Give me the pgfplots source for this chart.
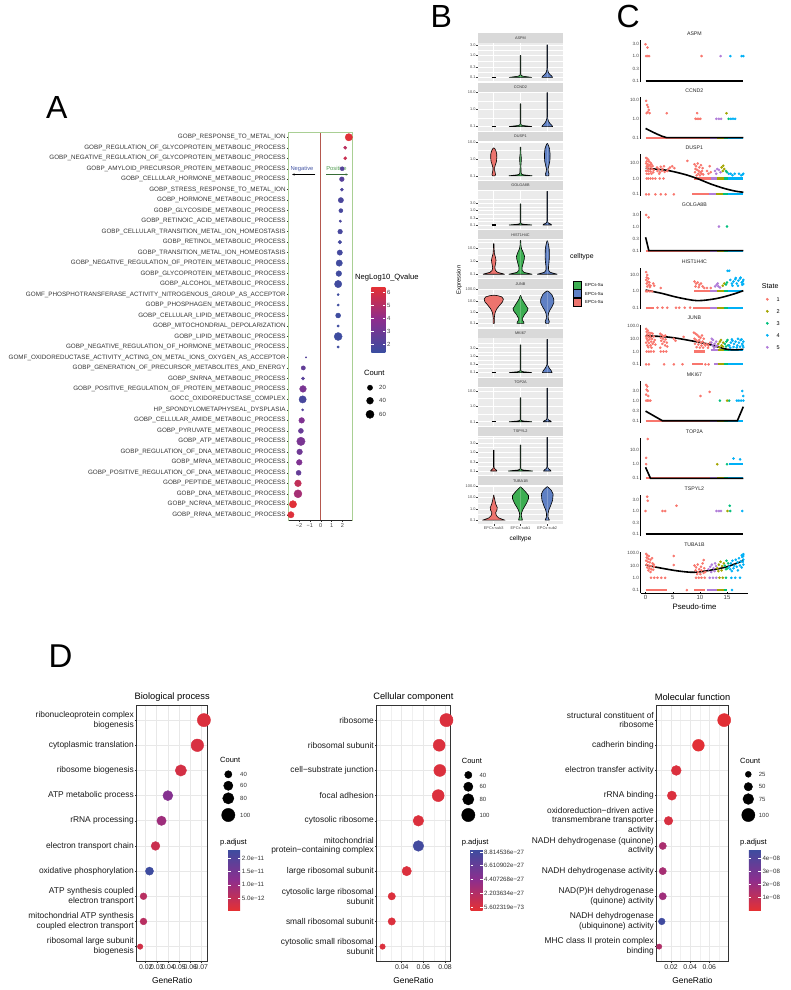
\documentclass[border=0pt]{standalone}
\usepackage{fontspec}
\setmainfont{Liberation Sans}
\usepackage{pgfplots}
\pgfplotsset{compat=1.18}
\usepackage{pgfplotstable}
\usetikzlibrary{arrows.meta}

\newcommand\fs[1]{\fontsize{#1}{#1}\selectfont}

\definecolor{s1}{HTML}{F8766D}
\definecolor{s2}{HTML}{A3A500}
\definecolor{s3}{HTML}{00BF7D}
\definecolor{s4}{HTML}{00B0F6}
\definecolor{s5}{HTML}{B07CD8}
\definecolor{vr}{HTML}{EC746E}
\definecolor{vg}{HTML}{3DAE52}
\definecolor{vb}{HTML}{5F80C4}
\definecolor{boxg}{HTML}{A9CF94}
\definecolor{zerol}{HTML}{B4584E}
\definecolor{negc}{HTML}{4657A5}
\definecolor{posc}{HTML}{4E9A4E}

\pgfplotsset{
  colormap={qv}{rgb255=(59,77,160) rgb255=(140,46,142) rgb255=(228,48,52)},
  colormap={pa}{rgb255=(228,48,52) rgb255=(140,46,142) rgb255=(59,77,160)},
  base/.style={scale only axis, anchor=north west, tick align=outside},
  dots/.style={scatter, only marks, mark=*, point meta=explicit,
    scatter/use mapped color={draw=mapped color, fill=mapped color}},
  cpt/.style={only marks, mark=*, mark size=1.1pt, mark options={draw=none}},
  % expression axes: values are plotted on a log10 scale
  lg/.style={every axis plot/.append style={y filter/.expression={log10(y)}}},
  bfac/.style={base, lg, width=85.6pt, height=38.2pt, xmin=0.4, xmax=3.6,
    axis background/.style={fill=black!8}, axis line style={draw=none},
    xtick={1,2,3}, xticklabels={}, xtick style={draw=none},
    xmajorgrids, ymajorgrids, yminorgrids,
    major grid style={white, line width=0.6pt}, minor grid style={white, line width=0.3pt},
    ytick pos=left, xtick pos=bottom, major tick length=1.4pt, minor tick length=0pt,
    ytick style={black!75, line width=0.35pt},
    yticklabel style={font=\fs{3.9}, text=black!70, inner sep=0.6pt}},
  cfac/.style={base, lg, width=107.5pt, height=41.5pt, xmin=-0.9, xmax=18.9,
    axis lines=left, axis line style={-, black, line width=0.55pt},
    xtick={0,5,10,15}, xticklabels={},
    major tick length=1.5pt, tick style={black, line width=0.45pt},
    yticklabel style={font=\fs{4.6}, text=black!75, inner sep=0.8pt},
    clip=false},
  cin/.style={axis x line=none, xtick=\empty},
  t3/.style={ytick={-1,-0.5229,0,0.4771}, yticklabels={0.1,0.3,1.0,3.0}},
  t10/.style={ytick={-1,0,1}, yticklabels={0.1,1.0,10.0}},
  t100/.style={ytick={-1,0,1,2}, yticklabels={0.1,1.0,10.0,100.0}},
  dfac/.style={base, height=256.7pt, ymin=0.4, ymax=10.6, y dir=reverse, ytick={1,...,10},
    scaled x ticks=false,
    xmajorgrids, ymajorgrids, major grid style={black!9, line width=0.7pt},
    minor grid style={black!6, line width=0.4pt}, minor tick length=0pt,
    axis line style={black!80, line width=0.6pt},
    tick style={black!80, line width=0.5pt}, major tick length=1.7pt,
    xtick pos=bottom, ytick pos=left,
    yticklabel style={font=\fontsize{8.4}{9.7}\selectfont, align=right, text=black!90, inner sep=1pt},
    xticklabel style={font=\fs{6.9}, text=black!85, inner sep=1.5pt},
    colormap name=pa, clip=false, colorbar,
    colorbar style={at={(parent axis.north east)}, anchor=north west, xshift=12pt, yshift=-144pt,
      scale only axis, width=12pt, height=61pt, yticklabel pos=right, tick align=inside,
      major tick length=2.4pt, ytick style={white, line width=0.5pt}, axis line style={draw=none},
      yticklabel style={font=\fs{6.2}, text=black!80, inner sep=1.5pt}}},
}

% violin profiles: half-width w at expression y
\pgfplotstableread{
w y
0 0.1
0.42 0.1
0.28 0.106
0.1 0.113
0.03 0.122
0.008 0.14
0.008 1.0
0 1.0
}\vAg
\pgfplotstableread{
w y
0 0.1
0.2 0.1
0.17 0.115
0.09 0.14
0.04 0.17
0.015 0.22
0.008 0.3
0.008 3.0
0 3.0
}\vAb
\pgfplotstableread{
w y
0 0.1
0.42 0.1
0.28 0.107
0.1 0.115
0.03 0.125
0.008 0.15
0.008 2.2
0 2.2
}\vBg
\pgfplotstableread{
w y
0 0.1
0.2 0.1
0.17 0.12
0.09 0.16
0.04 0.22
0.015 0.3
0.008 0.4
0.008 10
0 10
}\vBb
\pgfplotstableread{
w y
0 0.1
0.05 0.1
0.065 0.12
0.05 0.16
0.03 0.22
0.03 0.3
0.06 0.45
0.1 0.7
0.115 1.2
0.11 2
0.08 3
0.04 4
0 4.5
}\vCr
\pgfplotstableread{
w y
0 0.1
0.43 0.1
0.3 0.106
0.12 0.114
0.04 0.125
0.02 0.16
0.015 0.4
0.03 0.8
0.03 1.2
0.015 2
0.008 5
0 5
}\vCg
\pgfplotstableread{
w y
0 0.1
0.055 0.1
0.065 0.13
0.04 0.18
0.028 0.25
0.06 0.4
0.1 0.8
0.105 2
0.085 4
0.05 6
0 8.5
}\vCb
\pgfplotstableread{
w y
0 0.1
0.42 0.1
0.28 0.106
0.1 0.113
0.03 0.122
0.008 0.14
0.008 2.8
0 2.8
}\vDg
\pgfplotstableread{
w y
0 0.1
0.16 0.1
0.13 0.115
0.06 0.13
0.02 0.15
0.008 0.2
0.008 20
0 20
}\vDb
\pgfplotstableread{
w y
0 0.1
0.4 0.1
0.3 0.115
0.14 0.14
0.06 0.2
0.04 0.35
0.07 0.7
0.085 1.2
0.06 2.2
0.025 4
0.012 10
0.008 22
0 24
}\vEr
\pgfplotstableread{
w y
0 0.1
0.43 0.1
0.3 0.115
0.13 0.14
0.06 0.2
0.06 0.35
0.1 0.7
0.14 1.5
0.15 2.5
0.1 5
0.04 9
0.015 18
0.008 40
0 42
}\vEg
\pgfplotstableread{
w y
0 0.1
0.37 0.1
0.26 0.115
0.11 0.14
0.05 0.2
0.045 0.35
0.065 0.8
0.08 2
0.075 8
0.05 18
0.02 32
0 40
}\vEb
\pgfplotstableread{
w y
0 0.1
0.025 0.1
0.02 0.3
0.04 0.7
0.07 1.2
0.12 2
0.22 4
0.33 8
0.36 14
0.3 22
0.15 28
0 31
}\vFr
\pgfplotstableread{
w y
0 0.1
0.13 0.1
0.12 0.13
0.08 0.18
0.08 0.3
0.15 0.6
0.25 1.2
0.28 2
0.2 4
0.12 8
0.05 15
0.01 28
0 30
}\vFg
\pgfplotstableread{
w y
0 0.1
0.06 0.1
0.075 0.15
0.04 0.25
0.03 0.4
0.05 0.8
0.1 1.5
0.18 3
0.25 7
0.24 15
0.17 35
0.07 60
0 74
}\vFb
\pgfplotstableread{
w y
0 0.1
0.42 0.1
0.28 0.106
0.1 0.113
0.03 0.122
0.008 0.14
0.008 4.4
0 4.4
}\vGg
\pgfplotstableread{
w y
0 0.1
0.18 0.1
0.15 0.13
0.08 0.18
0.03 0.25
0.008 0.32
0.008 9.6
0 9.6
}\vGb
\pgfplotstableread{
w y
0 0.1
0.42 0.1
0.28 0.106
0.1 0.113
0.03 0.122
0.008 0.14
0.008 3.6
0 3.6
}\vHg
\pgfplotstableread{
w y
0 0.1
0.15 0.1
0.12 0.115
0.05 0.13
0.02 0.15
0.008 0.2
0.008 15
0 15
}\vHb
\pgfplotstableread{
w y
0 0.1
0.12 0.1
0.09 0.115
0.04 0.13
0.015 0.15
0.008 0.18
0.008 1.25
0 1.25
}\vIr
\pgfplotstableread{
w y
0 0.1
0.45 0.1
0.3 0.106
0.1 0.113
0.03 0.122
0.008 0.14
0.008 2.3
0 2.3
}\vIg
\pgfplotstableread{
w y
0 0.1
0.14 0.1
0.11 0.115
0.05 0.13
0.02 0.15
0.008 0.18
0.008 5.8
0 5.8
}\vIb
\pgfplotstableread{
w y
0 0.1
0.42 0.1
0.32 0.12
0.18 0.16
0.1 0.25
0.07 0.45
0.12 0.8
0.13 1.3
0.08 2.5
0.04 6
0 17
}\vJr
\pgfplotstableread{
w y
0 0.1
0.07 0.1
0.06 0.14
0.03 0.25
0.04 0.45
0.1 1
0.22 3
0.3 8
0.3 15
0.2 30
0.08 60
0 90
}\vJg
\pgfplotstableread{
w y
0 0.1
0.08 0.1
0.06 0.13
0.025 0.2
0.03 0.4
0.06 0.8
0.13 2
0.2 6
0.22 20
0.15 45
0.05 75
0 93
}\vJb

% violin: centre, fill, profile table (drawn as two mirrored halves)
\newcommand\vio[3]{%
  \addplot[fill=#2, draw=black, line width=0.6pt, line join=round] table[x expr=#1+\thisrow{w}, y=y]{#3};
  \addplot[fill=#2, draw=black, line width=0.6pt, line join=round] table[x expr=#1-\thisrow{w}, y=y]{#3};
}
\newcommand\vdsh{\addplot[black, line width=1.3pt] coordinates {(0.92,0.1)(1.08,0.1)};}
% dense row of cells: colour, from, to, level
\newcommand\bd[4]{\addplot[#1, line width=2.2pt] coordinates {(#2,#4)(#3,#4)};}
\newcommand\flr{\bd{s1}{0}{11.8}{0.1}\bd{s5}{11.8}{13.2}{0.1}\bd{s2}{13.2}{14.4}{0.1}\bd{s3}{14.4}{15.2}{0.1}\bd{s4}{15.2}{18}{0.1}}
\newcommand\trend[1]{\addplot[black, line width=1.6pt] coordinates {#1};}
\newcommand\strend[1]{\addplot[black, line width=1.6pt, smooth] coordinates {#1};}
% strip of panel B: top edge, gene
\newcommand\strip[2]{\fill[black!15] (axis cs:477.7,#1) rectangle (axis cs:563.3,#1+9.2);
  \node[font=\fs{3.8}, text=black!80] at (axis cs:520.5,#1+4.6) {#2};}

\begin{document}
\begin{tikzpicture}
\path[use as bounding box] (0pt,0pt) rectangle (791pt,-990pt);

% ================= A =================
\begin{axis}[base, at={(288.6pt,-132pt)}, width=63.6pt, height=388pt,
  xmin=-2.95, xmax=2.89, ymin=0.5, ymax=37.5, y dir=reverse,
  axis line style={draw=none}, xtick pos=bottom, ytick pos=left,
  xtick={-2,-1,0,1,2}, xticklabels={−2,−1,0,1,2},
  ytick={1,...,37},
  yticklabels={GOBP\_RESPONSE\_TO\_METAL\_ION,
    GOBP\_REGULATION\_OF\_GLYCOPROTEIN\_METABOLIC\_PROCESS,
    GOBP\_NEGATIVE\_REGULATION\_OF\_GLYCOPROTEIN\_METABOLIC\_PROCESS,
    GOBP\_AMYLOID\_PRECURSOR\_PROTEIN\_METABOLIC\_PROCESS,
    GOBP\_CELLULAR\_HORMONE\_METABOLIC\_PROCESS,
    GOBP\_STRESS\_RESPONSE\_TO\_METAL\_ION,
    GOBP\_HORMONE\_METABOLIC\_PROCESS,
    GOBP\_GLYCOSIDE\_METABOLIC\_PROCESS,
    GOBP\_RETINOIC\_ACID\_METABOLIC\_PROCESS,
    GOBP\_CELLULAR\_TRANSITION\_METAL\_ION\_HOMEOSTASIS,
    GOBP\_RETINOL\_METABOLIC\_PROCESS,
    GOBP\_TRANSITION\_METAL\_ION\_HOMEOSTASIS,
    GOBP\_NEGATIVE\_REGULATION\_OF\_PROTEIN\_METABOLIC\_PROCESS,
    GOBP\_GLYCOPROTEIN\_METABOLIC\_PROCESS,
    GOBP\_ALCOHOL\_METABOLIC\_PROCESS,
    GOMF\_PHOSPHOTRANSFERASE\_ACTIVITY\_NITROGENOUS\_GROUP\_AS\_ACCEPTOR,
    GOBP\_PHOSPHAGEN\_METABOLIC\_PROCESS,
    GOBP\_CELLULAR\_LIPID\_METABOLIC\_PROCESS,
    GOBP\_MITOCHONDRIAL\_DEPOLARIZATION,
    GOBP\_LIPID\_METABOLIC\_PROCESS,
    GOBP\_NEGATIVE\_REGULATION\_OF\_HORMONE\_METABOLIC\_PROCESS,
    GOMF\_OXIDOREDUCTASE\_ACTIVITY\_ACTING\_ON\_METAL\_IONS\_OXYGEN\_AS\_ACCEPTOR,
    GOBP\_GENERATION\_OF\_PRECURSOR\_METABOLITES\_AND\_ENERGY,
    GOBP\_SNRNA\_METABOLIC\_PROCESS,
    GOBP\_POSITIVE\_REGULATION\_OF\_PROTEIN\_METABOLIC\_PROCESS,
    GOCC\_OXIDOREDUCTASE\_COMPLEX,
    HP\_SPONDYLOMETAPHYSEAL\_DYSPLASIA,
    GOBP\_CELLULAR\_AMIDE\_METABOLIC\_PROCESS,
    GOBP\_PYRUVATE\_METABOLIC\_PROCESS,
    GOBP\_ATP\_METABOLIC\_PROCESS,
    GOBP\_REGULATION\_OF\_DNA\_METABOLIC\_PROCESS,
    GOBP\_MRNA\_METABOLIC\_PROCESS,
    GOBP\_POSITIVE\_REGULATION\_OF\_DNA\_METABOLIC\_PROCESS,
    GOBP\_PEPTIDE\_METABOLIC\_PROCESS,
    GOBP\_DNA\_METABOLIC\_PROCESS,
    GOBP\_NCRNA\_METABOLIC\_PROCESS,
    GOBP\_RRNA\_METABOLIC\_PROCESS},
  major tick length=1.8pt, tick style={black!80, line width=0.4pt},
  yticklabel style={font=\fs{6.3}, text=black!80, inner sep=1pt},
  xticklabel style={font=\fs{5.6}, text=black!75, inner sep=1.2pt},
  colormap name=qv, point meta min=1.4, point meta max=6.4, clip=false,
  colorbar, colorbar style={at={(parent axis.north east)}, anchor=north west,
    xshift=10.6pt, yshift=-155pt, scale only axis, width=14pt, height=65pt,
    ytick={2,3,4,5,6}, yticklabels={2,3,4,5,6}, yticklabel pos=right,
    tick align=inside, major tick length=2.8pt, ytick style={white, line width=0.5pt},
    axis line style={draw=none}, yticklabel style={font=\fs{6}, text=black!75, inner sep=1.5pt}}]
\draw[zerol, line width=0.6pt] (axis cs:0,0.5) -- (axis cs:0,37.5);
\draw[boxg, line width=0.9pt] (axis cs:-2.95,0.5) rectangle (axis cs:2.89,37.5);
\draw[black!85, line width=0.5pt] (axis cs:-2.95,37.5) -- (axis cs:2.89,37.5);
\node[negc, font=\fs{5.8}] at (axis cs:-1.72,4) {Negative};
\node[posc, font=\fs{5.8}] at (axis cs:1.45,4) {Positive};
\draw[-{Stealth[length=2.4pt,width=2.2pt]}, line width=0.6pt] (axis cs:-0.5,4.55) -- (axis cs:-2.62,4.55);
\draw[posc!70!black, -{Stealth[length=2.4pt,width=2.2pt]}, line width=0.6pt] (axis cs:0.5,4.55) -- (axis cs:2.5,4.55);
\addplot[dots, visualization depends on={0.72*(1+5*sqrt(max(\thisrow{n}-1,0)/69)) \as \msz},
  scatter/@pre marker code/.append style={/tikz/mark size=\msz}] table[x=x, y=y, meta=q]{
y x q n
1 2.58 6.3 47
2 2.25 5.2 6
3 2.25 5.6 4.5
4 1.97 2.2 10
5 1.94 2.3 15
6 1.94 2.0 5
7 1.85 1.9 21
8 1.85 1.8 10
9 1.80 1.9 2.5
10 1.78 1.8 15
11 1.75 1.7 8
12 1.75 1.7 21
13 1.70 1.6 33
14 1.66 1.6 25
15 1.60 1.6 47
16 1.60 1.5 1.8
17 1.60 1.5 2
18 1.60 1.5 18
19 1.60 1.5 2
20 1.60 1.5 58
21 1.60 1.5 2
22 -1.35 2.2 1
23 -1.60 2.6 12
24 -1.63 2.3 5
25 -1.63 3.3 38
26 -1.66 1.8 47
27 -1.66 2.1 2
28 -1.75 3.5 25
29 -1.82 2.8 18
30 -1.82 3.3 65
31 -1.94 3.0 25
32 -1.97 3.5 25
33 -2.03 2.7 18
34 -2.09 5.4 38
35 -2.09 4.6 58
36 -2.55 6.3 47
37 -2.74 6.2 33
};
\end{axis}

% ================= B (y on log10 scale) =================
\begin{axis}[bfac, t3, at={(477.7pt,-43.2pt)}, ymin=-1.180, ymax=0.554,
  minor ytick={-1.261,-0.762,-0.261,0.238}]
\vdsh \vio{2}{vg}{\vAg} \vio{3}{vb}{\vAb}
\end{axis}
\begin{axis}[bfac, t10, at={(477.7pt,-92.4pt)}, ymin=-1.237, ymax=1.013, minor ytick={-0.5,0.5}]
\vdsh \vio{2}{vg}{\vBg} \vio{3}{vb}{\vBb}
\end{axis}
\begin{axis}[bfac, t10, at={(477.7pt,-141.6pt)}, ymin=-1.237, ymax=1.025, minor ytick={-0.5,0.5}]
\vio{1}{vr}{\vCr} \vio{2}{vg}{\vCg} \vio{3}{vb}{\vCb}
\end{axis}
\begin{axis}[bfac, t3, at={(477.7pt,-190.8pt)}, ymin=-1.276, ymax=1.342,
  minor ytick={-0.762,-0.261,0.238,0.738}]
\vdsh \vio{2}{vg}{\vDg} \vio{3}{vb}{\vDb}
\end{axis}
\begin{axis}[bfac, t10, at={(477.7pt,-240pt)}, ymin=-1.310, ymax=1.653, minor ytick={-0.5,0.5,1.5}]
\vio{1}{vr}{\vEr} \vio{2}{vg}{\vEg} \vio{3}{vb}{\vEb}
\end{axis}
\begin{axis}[bfac, t100, at={(477.7pt,-289.2pt)}, ymin=-1.357, ymax=2.021, minor ytick={-0.5,0.5,1.5}]
\vio{1}{vr}{\vFr} \vio{2}{vg}{\vFg} \vio{3}{vb}{\vFb}
\end{axis}
\begin{axis}[bfac, t3, at={(477.7pt,-338.4pt)}, ymin=-1.237, ymax=1.033,
  minor ytick={-1.261,-0.762,-0.261,0.238,0.738}]
\vdsh \vio{2}{vg}{\vGg} \vio{3}{vb}{\vGb}
\end{axis}
\begin{axis}[bfac, t10, at={(477.7pt,-387.6pt)}, ymin=-1.260, ymax=1.215, minor ytick={-0.5,0.5}]
\vdsh \vio{2}{vg}{\vHg} \vio{3}{vb}{\vHb}
\end{axis}
\begin{axis}[bfac, t3, at={(477.7pt,-436.8pt)}, ymin=-1.208, ymax=0.792,
  minor ytick={-1.261,-0.762,-0.261,0.238,0.738}]
\vio{1}{vr}{\vIr} \vio{2}{vg}{\vIg} \vio{3}{vb}{\vIb}
\end{axis}
\begin{axis}[bfac, t100, at={(477.7pt,-486pt)}, ymin=-1.357, ymax=2.025, minor ytick={-0.5,0.5,1.5},
  xticklabels={EPCs-sub3,EPCs-sub1,EPCs-sub2}, xtick style={draw=black!75, line width=0.35pt},
  xticklabel style={font=\fs{3.9}, text=black!70, inner sep=1pt}]
\vio{1}{vr}{\vJr} \vio{2}{vg}{\vJg} \vio{3}{vb}{\vJb}
\end{axis}

% ================= C (y on log10 scale) =================
\begin{axis}[cfac, cin, t3, at={(640.7pt,-40.5pt)}, ymin=-1.041, ymax=0.628]
\flr
\addplot[cpt, s1] coordinates {(0,3)(0.35,2.2)(0.1,1)(0.4,1)(0.65,1)(10.3,1)};
\addplot[cpt, s5] coordinates {(13.8,1)};
\addplot[cpt, s4] coordinates {(15.6,1)(17.7,1)(18,1)};
\trend{(0,0.1)(18,0.1)}
\end{axis}
\begin{axis}[cfac, cin, t10, at={(640.7pt,-97.3pt)}, ymin=-1.060, ymax=1.143]
\flr
\addplot[cpt, s1] coordinates {(0.1,9)(0.3,5.5)(0.45,4.2)(0.6,3)(0.4,2.3)(0.75,2)(0.2,2)(3.9,2)(9.5,2)(9.2,1)(9.5,1)(9.8,1)(10.1,1)};
\addplot[cpt, s5] coordinates {(13.05,1)(13.5,1)(13.9,1)};
\addplot[cpt, s2] coordinates {(14.9,2)};
\addplot[cpt, s3] coordinates {(15.3,1)};
\addplot[cpt, s4] coordinates {(15.7,1)(16.1,1)(16.5,1)};
\trend{(0,0.31)(1,0.22)(2,0.16)(3,0.12)(3.9,0.1)(18,0.1)}
\end{axis}
\begin{axis}[cfac, cin, t10, at={(640.7pt,-154.1pt)}, ymin=-1.081, ymax=1.544]
\bd{s1}{8.6}{11.6}{0.1}\bd{s5}{11.6}{13}{0.1}\bd{s2}{13}{14.3}{0.1}\bd{s3}{14.3}{15.2}{0.1}\bd{s4}{15.2}{18}{0.1}
\bd{s1}{9}{12}{1}\bd{s5}{12}{13.2}{1}\bd{s2}{13.2}{14.4}{1}\bd{s3}{14.4}{15.2}{1}\bd{s4}{15.2}{18}{1}
\addplot[cpt, s1] coordinates {(0.1,20)(0.3,18)(0.5,15)(0.2,12)(0.6,12)(0.9,10)(0.1,9)(0.4,8)(0.8,7)(1.1,8)(0.2,6)(0.5,6)(1.0,5.5)(1.3,6)(0.3,4.5)(0.7,4)(1.2,4)(1.5,3.5)(0.1,3)(0.5,3)(0.9,2.8)(1.4,2.5)(0.2,2)(0.6,2)(1.1,2)(2.1,5)(2.4,4)(2.8,5.5)(3.1,4)(3.4,6)(2.2,3)(2.6,2.5)(3.0,3)(3.5,2.6)(2.5,2)(4.2,4)(4.5,5)(4.9,6)(5.3,4.5)(4.0,3)(7.7,13)(9.0,8)(9.3,6)(9.6,9)(9.9,5)(10.2,7)(10.5,4.5)(9.2,4)(9.5,3.5)(9.8,3)(10.1,2.5)(10.4,3)(9.1,2.5)(9.7,2)(10.3,2)(10.6,1.8)(9.4,1.6)(10.0,1.6)(11.8,6)(11.3,3)(11.6,2)(12.0,2.5)(0.2,1)(0.5,1)(0.9,1)(1.3,1)(1.8,1)(2.6,1)(3.3,1)(0.1,0.1)(0.6,0.1)(1.8,0.1)(2.8,0.1)(3.7,0.1)(5.2,0.1)};
\addplot[cpt, s5] coordinates {(12.8,3)(13.2,4)(13.5,3.5)(13.0,2)(13.8,2.5)};
\addplot[cpt, s2] coordinates {(14.0,5)(14.3,6.5)(14.5,4)(14.2,3)};
\addplot[cpt, s3] coordinates {(14.8,3)(15.0,2.5)};
\addplot[cpt, s4] coordinates {(15.3,2)(15.7,2)(16.0,1.6)(16.4,2)(17.2,2)(17.6,1.6)(18.0,2)(17.9,1.8)};
\strend{(0,4.4)(3.4,3.5)(5.2,2.7)(7.5,1.7)(9.5,1.0)(12,0.45)(14.4,0.24)(16.5,0.16)(18,0.135)}
\end{axis}
\begin{axis}[cfac, cin, t3, at={(640.7pt,-210.9pt)}, ymin=-1.071, ymax=0.646]
\flr
\addplot[cpt, s1] coordinates {(0.1,3.0)(0.55,2.4)};
\addplot[cpt, s5] coordinates {(13.5,1)};
\addplot[cpt, s3] coordinates {(15.0,1)};
\trend{(0,0.36)(0.6,0.1)(18,0.1)}
\end{axis}
\begin{axis}[cfac, cin, t10, at={(640.7pt,-267.7pt)}, ymin=-1.092, ymax=1.446]
\bd{s1}{0}{1.6}{0.1}\bd{s1}{8.8}{11.8}{0.1}\bd{s5}{11.8}{13.2}{0.1}\bd{s2}{13.2}{14.4}{0.1}\bd{s3}{14.4}{15.2}{0.1}\bd{s4}{15.2}{18}{0.1}
\bd{s1}{9}{11.8}{1}\bd{s5}{11.8}{13.2}{1}\bd{s2}{13.2}{14.4}{1}\bd{s3}{14.4}{15.2}{1}\bd{s4}{15.2}{18}{1}
\addplot[cpt, s1] coordinates {(0.1,15)(0.3,10)(0.2,7)(0.5,6)(0.1,5)(0.4,4)(0.7,3.5)(0.2,3)(0.6,2.5)(0.9,2.2)(0.3,2)(0.8,1.8)(1.4,3)(1.6,2.2)(2.8,1.6)(9.0,4)(9.3,3)(9.6,3.5)(9.9,2.5)(10.2,3)(9.2,2)(9.8,1.8)(10.5,2)(10.8,1.6)(11.3,1.6)(12.0,1.6)(0.1,1)(0.4,1)(0.8,1)(1.2,1)(2.2,0.1)(3.1,0.1)(4.0,0.1)(5.6,0.1)(6.2,0.1)(7.2,0.1)(8.2,0.1)};
\addplot[cpt, s5] coordinates {(12.8,2)(13.1,2.5)(13.4,2)(13.7,1.7)(13.3,3)};
\addplot[cpt, s2] coordinates {(14.2,2.2)(14.5,3)};
\addplot[cpt, s3] coordinates {(14.8,2.6)(15.0,3.5)};
\addplot[cpt, s4] coordinates {(15.1,18)(15.4,18)(15.6,5)(15.9,3)(16.2,4)(16.5,5.5)(16.8,3)(17.1,4.5)(17.4,6)(17.7,3.5)(18.0,5)(17.9,4)(16.0,2.2)(17.0,2.2)(17.8,2.5)(18.0,2.8)(16.6,6.5)(17.5,7)};
\strend{(0,1.2)(3,0.75)(6,0.42)(9.5,0.27)(13,0.36)(16,0.65)(18,1.1)}
\end{axis}
\begin{axis}[cfac, cin, t100, at={(640.7pt,-324.5pt)}, ymin=-1.131, ymax=2.117]
\bd{s1}{8.6}{10.6}{0.1}\bd{s5}{12.6}{13.3}{0.1}\bd{s2}{13.3}{14.4}{0.1}\bd{s3}{14.4}{15.2}{0.1}\bd{s4}{15.2}{18}{0.1}
\bd{s1}{9}{11}{1}\bd{s5}{12}{13.3}{1.4}\bd{s2}{13.3}{14.5}{1.4}\bd{s3}{14.5}{15.3}{1.4}\bd{s4}{15.3}{18}{1.4}
\addplot[cpt, s1] coordinates {(0.1,60)(0.4,45)(0.2,35)(0.6,30)(1.0,28)(0.3,22)(0.8,20)(1.3,25)(0.1,15)(0.5,14)(0.9,13)(1.5,15)(0.2,10)(0.7,9)(1.2,10)(1.7,8)(0.4,7)(1.0,6)(1.5,5.5)(0.1,5)(0.6,4.5)(1.3,4)(0.3,3)(0.9,3)(1.8,3.5)(0.5,2.2)(1.1,2)(2.7,25)(3.0,20)(3.3,15)(3.6,18)(2.8,12)(3.2,10)(3.7,9)(2.9,7)(3.4,6)(3.9,5)(3.1,4)(3.6,3)(4.0,2.5)(2.7,2)(5.2,10)(5.5,7)(7.0,14)(8.9,30)(9.2,25)(9.5,20)(9.8,15)(10.1,12)(10.4,18)(10.7,10)(9.0,10)(9.3,8)(9.6,6)(9.9,8)(10.2,5)(10.5,6)(10.8,4)(9.1,4)(9.7,3.5)(10.3,3)(11.0,3)(9.4,2.2)(10.0,2)(10.6,2)(11.3,4)(11.6,3)(11.9,5)(11.5,2)(0.2,1)(0.6,1)(1.0,1)(1.5,1)(2.8,1)(3.3,1)(3.8,1)(0.1,0.1)(0.6,0.1)(3.4,0.1)(5.2,0.1)(6.8,0.1)(11.0,0.1)(11.6,0.1)};
\addplot[cpt, s5] coordinates {(12.1,5)(12.4,8)(12.7,4)(13.0,6)(12.3,3)(12.9,2.5)(12.6,2)(13.2,3)(12.2,10)};
\addplot[cpt, s2] coordinates {(13.4,4)(13.7,6)(14.0,3)(14.3,5)(13.6,2.2)(14.2,2.5)(13.9,8)};
\addplot[cpt, s3] coordinates {(14.6,4)(14.9,6)(15.2,3)(14.8,2.5)(15.1,8)};
\addplot[cpt, s4] coordinates {(15.4,3)(15.7,5)(16.0,7)(16.3,4)(16.6,6)(16.9,3)(17.2,5)(17.5,8)(17.8,4)(18.0,6)(17.9,3)(15.6,2)(16.2,2.3)(16.8,2.1)(17.4,2.4)(18.0,2.2)(15.9,9)(17.0,10)(17.7,9)};
\strend{(0,17)(3,15)(5.2,12)(8,7.5)(11.3,4)(13.5,2.2)(15,1.5)(16.5,1.35)(18,1.5)}
\end{axis}
\begin{axis}[cfac, cin, t3, at={(640.7pt,-381.3pt)}, ymin=-1.102, ymax=0.959]
\flr
\addplot[cpt, s1] coordinates {(0.1,6)(0.3,5)(0.2,3.5)(0.4,3)(0.1,2)(0.5,1.7)(0.1,1)(0.35,1)(0.6,1)(0.9,1)(10.1,1.7)(11.8,2.7)};
\addplot[cpt, s3] coordinates {(13.7,1)(15.4,1)};
\addplot[cpt, s2] coordinates {(15.0,1)};
\addplot[cpt, s4] coordinates {(16.8,1)(17.2,1)(17.6,1)(18.0,1)(17.8,3)(18.0,1.7)};
\trend{(0,0.3)(3.1,0.1)(16.9,0.1)(18,0.5)}
\end{axis}
\begin{axis}[cfac, cin, t10, at={(640.7pt,-438.1pt)}, ymin=-1.092, ymax=1.845]
\flr
\bd{s4}{15.3}{18}{1}
\addplot[cpt, s1] coordinates {(0.4,60)(0.1,2.8)(0.1,1)};
\addplot[cpt, s2] coordinates {(13.2,1)};
\addplot[cpt, s3] coordinates {(15.0,1)};
\addplot[cpt, s4] coordinates {(16.2,2.5)(17.4,2.2)};
\trend{(0,0.6)(0.9,0.1)(18,0.1)}
\end{axis}
\begin{axis}[cfac, cin, t3, at={(640.7pt,-494.9pt)}, ymin=-1.102, ymax=0.699]
\flr
\addplot[cpt, s1] coordinates {(0.3,4.2)(0.4,2.8)(0,1)(3.1,1)(3.6,1)(5.7,1.7)};
\addplot[cpt, s5] coordinates {(13.05,1)(13.5,1)(13.9,1)};
\addplot[cpt, s2] coordinates {(15.1,1)};
\addplot[cpt, s3] coordinates {(15.5,1.7)(15.6,1)};
\addplot[cpt, s4] coordinates {(17.8,1)};
\trend{(0,0.1)(18,0.1)}
\end{axis}
\begin{axis}[cfac, t100, at={(640.7pt,-551.7pt)}, ymin=-1.260, ymax=2.130,
  xticklabels={0,5,10,15}, xticklabel style={font=\fs{6}, text=black!75, inner sep=1pt}]
\bd{s1}{0}{4}{0.1}\bd{s1}{9}{11}{0.1}\bd{s5}{11.3}{13.2}{0.1}\bd{s2}{13.2}{14.4}{0.1}\bd{s3}{14.4}{15}{0.1}
\addplot[cpt, s1] coordinates {(0.1,90)(0.3,70)(0.6,60)(0.2,45)(0.5,35)(0.9,30)(1.2,40)(0.1,25)(0.4,20)(0.8,18)(1.3,15)(0.2,12)(0.6,10)(1.0,9)(1.5,12)(0.3,7)(0.7,6)(1.1,5)(0.5,4)(1.4,4.5)(0.9,3)(1.6,8)(5.2,60)(5.2,11)(9.0,10)(9.3,7)(9.6,12)(9.9,5)(10.2,8)(10.5,15)(10.8,6)(9.2,4)(9.7,3)(10.3,4)(11.0,3)(9.5,2)(10.1,2)(10.7,2.5)(10.7,28)(1.0,1)(1.6,1)(2.2,1)(2.9,1)(3.6,1)(9.3,1)(9.8,1)(10.3,1)(10.9,1)(7.6,0.1)};
\addplot[cpt, s5] coordinates {(11.6,5)(11.9,8)(12.2,12)(12.5,6)(12.8,15)(12.1,3)(12.7,3.5)(13.0,9)(11.8,1)(12.4,1)(13.0,1)};
\addplot[cpt, s2] coordinates {(13.2,6)(13.5,12)(13.8,20)(14.1,9)(14.4,15)(13.4,3.5)(14.0,4)(13.6,1)(14.2,1)};
\addplot[cpt, s3] coordinates {(14.6,10)(14.9,25)(15.2,15)(14.8,5)(15.1,6)(14.8,1)};
\addplot[cpt, s4] coordinates {(15.4,8)(15.7,15)(16.0,25)(16.3,10)(16.6,30)(16.9,18)(17.2,40)(17.5,22)(17.8,50)(18.0,30)(18.0,60)(15.6,5)(16.2,6)(16.8,8)(17.4,10)(18.0,12)(17.9,20)(15.9,3.5)(17.0,4)(17.7,7)(17.7,70)(18.0,85)(15.8,1)(16.5,1)(17.4,1)(15.9,0.1)};
\strend{(0,11)(3,6)(6,3.6)(8.9,2.8)(12,4.2)(15,8)(18,25)}
\end{axis}

% ================= D =================
\begin{axis}[dfac, at={(136.7pt,-705pt)}, width=71pt, xmin=0.0119, xmax=0.0757,
  xtick={0.02,0.03,0.04,0.05,0.06,0.07}, xticklabels={0.02,0.03,0.04,0.05,0.06,0.07},
  yticklabels={{ribonucleoprotein complex\\biogenesis}, cytoplasmic translation, ribosome biogenesis,
    ATP metabolic process, rRNA processing, electron transport chain, oxidative phosphorylation,
    {ATP synthesis coupled\\electron transport}, {mitochondrial ATP synthesis\\coupled electron transport},
    {ribosomal large subunit\\biogenesis}},
  point meta min=0.6, point meta max=23.4,
  colorbar style={ytick={5,10,15,20}, yticklabels={5.0e−12,1.0e−11,1.5e−11,2.0e−11}}]
\addplot[dots, visualization depends on={1.65+0.05*\thisrow{n} \as \msz},
  scatter/@pre marker code/.append style={/tikz/mark size=\msz}] table[x=x, y=y, meta=p]{
y x p n
1 0.0723 1.8 99
2 0.0664 2.2 93
3 0.0516 2.8 80
4 0.0399 13 67
5 0.0342 9.7 61
6 0.0288 4 55
7 0.0234 23 48
8 0.0180 6.3 35
9 0.0180 6.3 35
10 0.0150 3 22
};
\end{axis}
\begin{axis}[dfac, at={(376.7pt,-705pt)}, width=73.3pt, xmin=0.0169, xmax=0.0846,
  xtick={0.04,0.06,0.08}, xticklabels={0.04,0.06,0.08}, minor xtick={0.02,0.03,0.05,0.07}, xminorgrids,
  yticklabels={ribosome, ribosomal subunit, cell−substrate junction, focal adhesion, cytosolic ribosome,
    {mitochondrial\\protein−containing complex}, large ribosomal subunit,
    {cytosolic large ribosomal\\subunit}, small ribosomal subunit, {cytosolic small ribosomal\\subunit}},
  point meta min=-0.5, point meta max=9.3,
  colorbar style={ytick={0,2.203634,4.407268,6.610902,8.814536},
    yticklabels={5.602319e−73,2.203634e−27,4.407268e−27,6.610902e−27,8.814536e−27}}]
\addplot[dots, visualization depends on={1.65+0.05*\thisrow{n} \as \msz},
  scatter/@pre marker code/.append style={/tikz/mark size=\msz}] table[x=x, y=y, meta=p]{
y x p n
1 0.0813 0 99
2 0.0746 0 87
3 0.0752 0 87
4 0.0737 0 87
5 0.0554 0 74
6 0.0554 8.81 74
7 0.0446 0 61
8 0.0308 0 41
9 0.0308 0 41
10 0.0223 0 22
};
\end{axis}
\begin{axis}[dfac, at={(656.7pt,-705pt)}, width=71.6pt, xmin=0.0051, xmax=0.0798,
  xtick={0.02,0.04,0.06}, xticklabels={0.02,0.04,0.06}, minor xtick={0.01,0.03,0.05,0.07}, xminorgrids,
  yticklabels={{structural constituent of\\ribosome}, cadherin binding, electron transfer activity, rRNA binding,
    {oxidoreduction−driven active\\transmembrane transporter\\activity}, {NADH dehydrogenase (quinone)\\activity},
    NADH dehydrogenase activity, {NAD(P)H dehydrogenase\\(quinone) activity},
    {NADH dehydrogenase\\(ubiquinone) activity}, {MHC class II protein complex\\binding}},
  point meta min=0.05, point meta max=4.75,
  colorbar style={ytick={1,2,3,4}, yticklabels={1e−08,2e−08,3e−08,4e−08}}]
\addplot[dots, visualization depends on={1.785+0.0485*\thisrow{n} \as \msz},
  scatter/@pre marker code/.append style={/tikz/mark size=\msz}] table[x=x, y=y, meta=p]{
y x p n
1 0.0755 0.1 98
2 0.0486 0.1 85
3 0.0255 0.3 65
4 0.0209 0.3 58
5 0.0174 0.4 52
6 0.0114 1.6 38
7 0.0114 1.7 38
8 0.0114 1.9 38
9 0.0104 4.6 32
10 0.0077 1.4 18
};
\end{axis}

% ================= labels, strips and legends =================
\begin{axis}[at={(0pt,0pt)}, anchor=north west, scale only axis, width=791pt, height=990pt,
  xmin=0, xmax=791, ymin=0, ymax=990, y dir=reverse, hide axis, clip=false]
\node[anchor=base west, inner sep=0pt, font=\fs{32}] at (axis cs:46,118) {A};
\node[anchor=base west, inner sep=0pt, font=\fs{32}] at (axis cs:430.5,27) {B};
\node[anchor=base west, inner sep=0pt, font=\fs{32}] at (axis cs:616.5,27) {C};
\node[anchor=base west, inner sep=0pt, font=\fs{33}] at (axis cs:48.5,667.7) {D};
% B strips
\strip{33.4}{ASPM}
\strip{82.6}{CCND2}
\strip{131.8}{DUSP1}
\strip{181}{GOLGA8B}
\strip{230.2}{HIST1H4C}
\strip{279.4}{JUNB}
\strip{328.6}{MKI67}
\strip{377.8}{TOP2A}
\strip{427}{TSPYL2}
\strip{476.2}{TUBA1B}
% C titles
\node[font=\fs{5.2}, text=black!85] at (axis cs:694.4,34) {ASPM};
\node[font=\fs{5.2}, text=black!85] at (axis cs:694.4,90.8) {CCND2};
\node[font=\fs{5.2}, text=black!85] at (axis cs:694.4,147.6) {DUSP1};
\node[font=\fs{5.2}, text=black!85] at (axis cs:694.4,204.4) {GOLGA8B};
\node[font=\fs{5.2}, text=black!85] at (axis cs:694.4,261.2) {HIST1H4C};
\node[font=\fs{5.2}, text=black!85] at (axis cs:694.4,318) {JUNB};
\node[font=\fs{5.2}, text=black!85] at (axis cs:694.4,374.8) {MKI67};
\node[font=\fs{5.2}, text=black!85] at (axis cs:694.4,431.6) {TOP2A};
\node[font=\fs{5.2}, text=black!85] at (axis cs:694.4,488.4) {TSPYL2};
\node[font=\fs{5.2}, text=black!85] at (axis cs:694.4,545.2) {TUBA1B};
% D titles and axis labels
\node[font=\fs{9.3}] at (axis cs:172.2,696.7) {Biological process};
\node[font=\fs{9.3}] at (axis cs:413.4,696.7) {Cellular component};
\node[font=\fs{9.3}] at (axis cs:692.5,696.7) {Molecular function};
\node[font=\fs{8.4}] at (axis cs:172.2,980) {GeneRatio};
\node[font=\fs{8.4}] at (axis cs:413.4,980) {GeneRatio};
\node[font=\fs{8.4}] at (axis cs:692.5,980) {GeneRatio};
% A legends
\node[anchor=west, inner sep=0pt, font=\fs{7.6}] at (axis cs:355,278) {NegLog10\_Qvalue};
\node[anchor=west, inner sep=0pt, font=\fs{7.6}] at (axis cs:364,373) {Count};
\addplot[only marks, mark=*, black, mark size=2.61pt] coordinates {(370,387.7)};
\addplot[only marks, mark=*, black, mark size=3.43pt] coordinates {(370,400.7)};
\addplot[only marks, mark=*, black, mark size=4.05pt] coordinates {(370,414.3)};
\node[anchor=west, inner sep=0pt, font=\fs{6}, text=black!80] at (axis cs:379,387.7) {20};
\node[anchor=west, inner sep=0pt, font=\fs{6}, text=black!80] at (axis cs:379,400.7) {40};
\node[anchor=west, inner sep=0pt, font=\fs{6}, text=black!80] at (axis cs:379,414.3) {60};
% B labels and legend
\node[rotate=90, font=\fs{5.8}] at (axis cs:459,280) {Expression};
\node[font=\fs{6.4}] at (axis cs:520.5,539) {celltype};
\node[anchor=west, inner sep=0pt, font=\fs{6.9}] at (axis cs:570,257) {celltype};
\addplot[only marks, mark=square*, mark size=4pt, mark options={fill=vg, draw=black, line width=0.6pt}] coordinates {(577.5,285)};
\addplot[only marks, mark=square*, mark size=4pt, mark options={fill=vb, draw=black, line width=0.6pt}] coordinates {(577.5,293.7)};
\addplot[only marks, mark=square*, mark size=4pt, mark options={fill=vr, draw=black, line width=0.6pt}] coordinates {(577.5,302.4)};
\node[anchor=west, inner sep=0pt, font=\fs{4.4}] at (axis cs:585,285) {EPCs-Su};
\node[anchor=west, inner sep=0pt, font=\fs{4.4}] at (axis cs:585,293.7) {EPCs-Su};
\node[anchor=west, inner sep=0pt, font=\fs{4.4}] at (axis cs:585,302.4) {EPCs-Su};
% C labels and legend
\node[font=\fs{7.8}] at (axis cs:694.5,607) {Pseudo-time};
\node[anchor=west, inner sep=0pt, font=\fs{7.1}] at (axis cs:761.7,286) {State};
\addplot[only marks, mark=*, mark size=1.2pt, s1] coordinates {(767.3,299.3)};
\addplot[only marks, mark=*, mark size=1.2pt, s2] coordinates {(767.3,311.3)};
\addplot[only marks, mark=*, mark size=1.2pt, s3] coordinates {(767.3,323.3)};
\addplot[only marks, mark=*, mark size=1.2pt, s4] coordinates {(767.3,335.3)};
\addplot[only marks, mark=*, mark size=1.2pt, s5] coordinates {(767.3,347.3)};
\node[anchor=west, inner sep=0pt, font=\fs{5.5}] at (axis cs:776.5,299.3) {1};
\node[anchor=west, inner sep=0pt, font=\fs{5.5}] at (axis cs:776.5,311.3) {2};
\node[anchor=west, inner sep=0pt, font=\fs{5.5}] at (axis cs:776.5,323.3) {3};
\node[anchor=west, inner sep=0pt, font=\fs{5.5}] at (axis cs:776.5,335.3) {4};
\node[anchor=west, inner sep=0pt, font=\fs{5.5}] at (axis cs:776.5,347.3) {5};
% D legends
\node[anchor=west, inner sep=0pt, font=\fs{7.5}] at (axis cs:220,760) {Count};
\node[anchor=west, inner sep=0pt, font=\fs{7.6}] at (axis cs:220,843) {p.adjust};
\addplot[only marks, mark=*, black, mark size=3.65pt] coordinates {(228.3,774.3)};
\addplot[only marks, mark=*, black, mark size=4.65pt] coordinates {(228.3,785.7)};
\addplot[only marks, mark=*, black, mark size=5.65pt] coordinates {(228.3,798.3)};
\addplot[only marks, mark=*, black, mark size=6.65pt] coordinates {(228.3,815)};
\node[anchor=west, inner sep=0pt, font=\fs{6}, text=black!80] at (axis cs:240,774.3) {40};
\node[anchor=west, inner sep=0pt, font=\fs{6}, text=black!80] at (axis cs:240,785.7) {60};
\node[anchor=west, inner sep=0pt, font=\fs{6}, text=black!80] at (axis cs:240,798.3) {80};
\node[anchor=west, inner sep=0pt, font=\fs{6}, text=black!80] at (axis cs:240,815) {100};
\node[anchor=west, inner sep=0pt, font=\fs{7.5}] at (axis cs:461.7,760.7) {Count};
\node[anchor=west, inner sep=0pt, font=\fs{7.6}] at (axis cs:461.7,843) {p.adjust};
\addplot[only marks, mark=*, black, mark size=3.65pt] coordinates {(468.3,775)};
\addplot[only marks, mark=*, black, mark size=4.65pt] coordinates {(468.3,786.7)};
\addplot[only marks, mark=*, black, mark size=5.65pt] coordinates {(468.3,799.3)};
\addplot[only marks, mark=*, black, mark size=6.65pt] coordinates {(468.3,815)};
\node[anchor=west, inner sep=0pt, font=\fs{6}, text=black!80] at (axis cs:479.3,775) {40};
\node[anchor=west, inner sep=0pt, font=\fs{6}, text=black!80] at (axis cs:479.3,786.7) {60};
\node[anchor=west, inner sep=0pt, font=\fs{6}, text=black!80] at (axis cs:479.3,799.3) {80};
\node[anchor=west, inner sep=0pt, font=\fs{6}, text=black!80] at (axis cs:479.3,815) {100};
\node[anchor=west, inner sep=0pt, font=\fs{7.5}] at (axis cs:740,760.7) {Count};
\node[anchor=west, inner sep=0pt, font=\fs{7.6}] at (axis cs:740,843) {p.adjust};
\addplot[only marks, mark=*, black, mark size=3.0pt] coordinates {(748.3,774.3)};
\addplot[only marks, mark=*, black, mark size=4.2pt] coordinates {(748.3,786.7)};
\addplot[only marks, mark=*, black, mark size=5.4pt] coordinates {(748.3,799)};
\addplot[only marks, mark=*, black, mark size=6.6pt] coordinates {(748.3,815)};
\node[anchor=west, inner sep=0pt, font=\fs{6}, text=black!80] at (axis cs:758.7,774.3) {25};
\node[anchor=west, inner sep=0pt, font=\fs{6}, text=black!80] at (axis cs:758.7,786.7) {50};
\node[anchor=west, inner sep=0pt, font=\fs{6}, text=black!80] at (axis cs:758.7,799) {75};
\node[anchor=west, inner sep=0pt, font=\fs{6}, text=black!80] at (axis cs:758.7,815) {100};
\end{axis}
\end{tikzpicture}
\end{document}
